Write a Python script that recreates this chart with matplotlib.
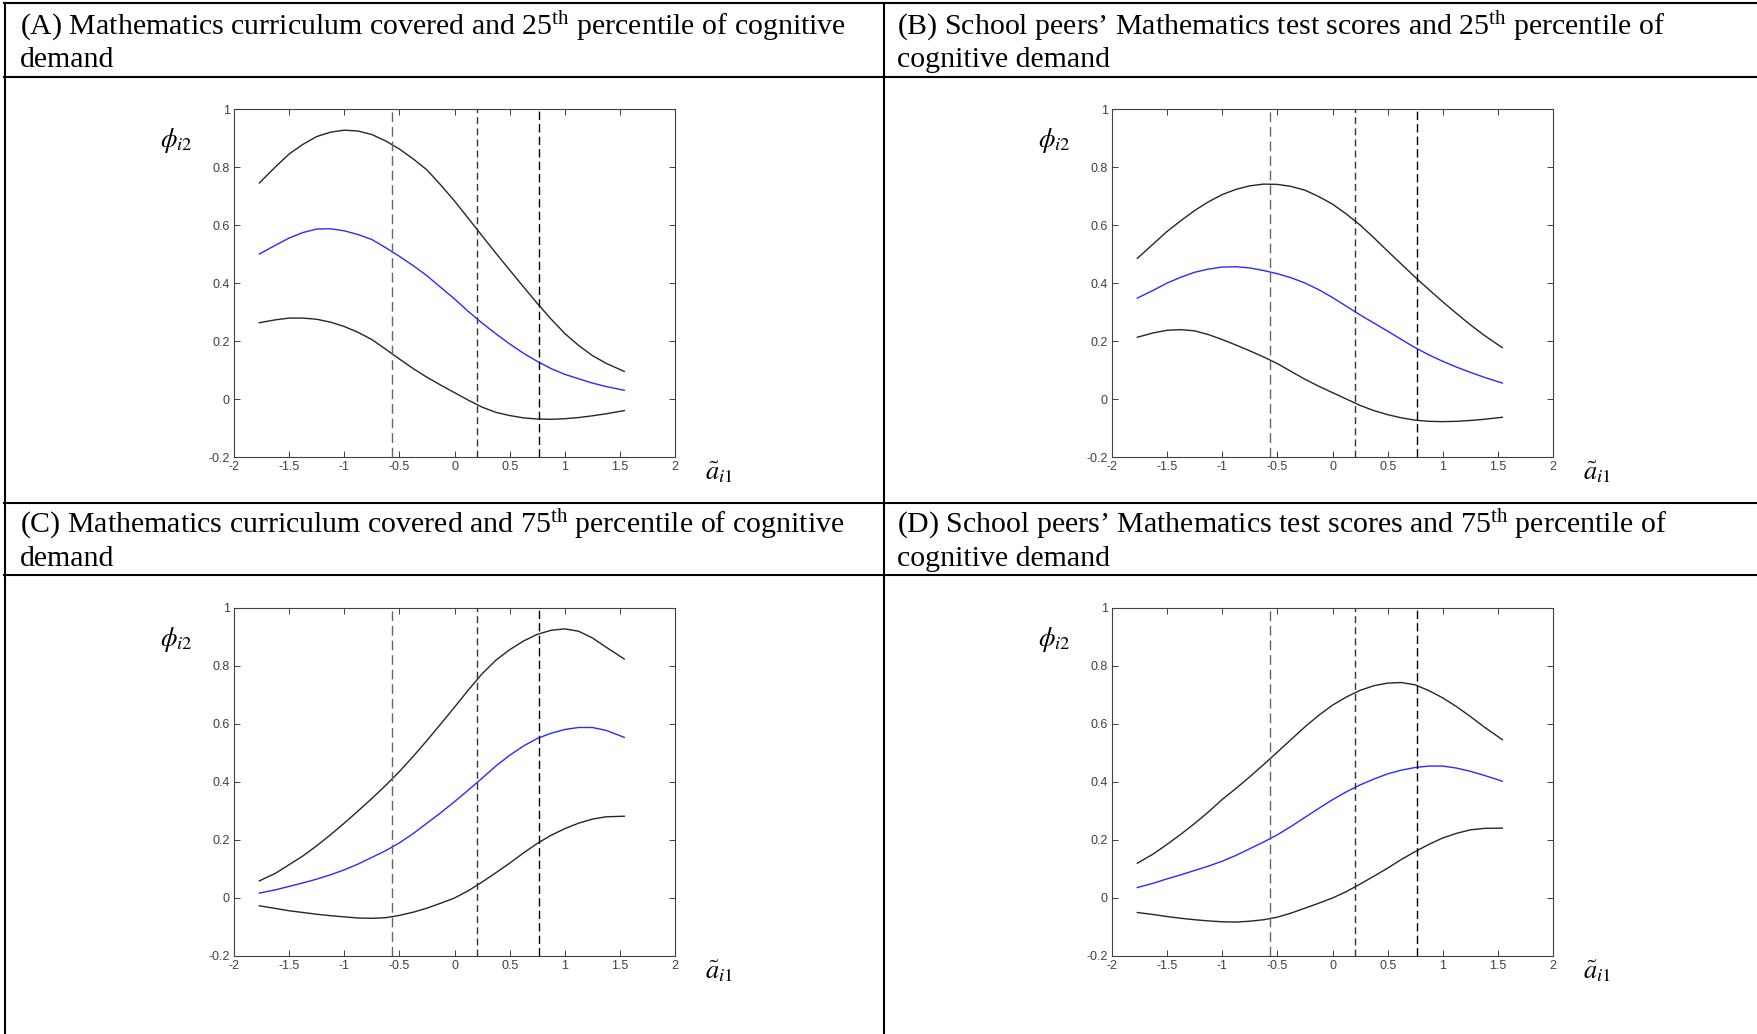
import numpy as np
import matplotlib.pyplot as plt
from matplotlib.lines import Line2D

plt.rcParams['mathtext.fontset'] = 'custom'
plt.rcParams['mathtext.rm'] = 'Liberation Serif'
plt.rcParams['mathtext.it'] = 'Liberation Serif:italic'

# abscissa points
x_pts = [-1.77, -1.625, -1.5, -1.375, -1.25, -1.125, -1.0, -0.875, -0.75, -0.625, -0.5,
         -0.375, -0.25, -0.125, 0.0, 0.125, 0.25, 0.375, 0.5, 0.625, 0.75, 0.875,
         1.0, 1.125, 1.25, 1.375, 1.54]

# (A) curriculum covered, 25th percentile
a_upper = [0.745, 0.80, 0.845, 0.878, 0.905, 0.92, 0.927, 0.924, 0.912, 0.89, 0.862,
           0.828, 0.79, 0.738, 0.683, 0.623, 0.563, 0.503, 0.445, 0.387, 0.33, 0.276,
           0.226, 0.185, 0.15, 0.123, 0.095]
a_mid = [0.50, 0.53, 0.555, 0.574, 0.586, 0.587, 0.58, 0.567, 0.55, 0.522, 0.492,
         0.46, 0.425, 0.385, 0.345, 0.302, 0.262, 0.225, 0.19, 0.158, 0.13, 0.105,
         0.085, 0.07, 0.055, 0.043, 0.03]
a_lower = [0.263, 0.273, 0.279, 0.279, 0.275, 0.265, 0.25, 0.23, 0.205, 0.172, 0.138,
           0.105, 0.075, 0.048, 0.022, -0.004, -0.028, -0.046, -0.057, -0.065, -0.069, -0.07,
           -0.068, -0.064, -0.058, -0.051, -0.04]

# (B) peers' test scores, 25th percentile
b_upper = [0.485, 0.535, 0.578, 0.615, 0.65, 0.68, 0.705, 0.723, 0.735, 0.741, 0.74,
           0.733, 0.72, 0.698, 0.672, 0.638, 0.60, 0.556, 0.51, 0.465, 0.42, 0.377,
           0.335, 0.295, 0.256, 0.22, 0.177]
b_mid = [0.348, 0.375, 0.40, 0.42, 0.437, 0.448, 0.455, 0.456, 0.452, 0.443, 0.432,
         0.418, 0.40, 0.377, 0.35, 0.32, 0.29, 0.262, 0.234, 0.205, 0.177, 0.152,
         0.13, 0.11, 0.092, 0.075, 0.055]
b_lower = [0.213, 0.228, 0.237, 0.239, 0.235, 0.222, 0.205, 0.186, 0.166, 0.145, 0.122,
           0.095, 0.068, 0.044, 0.022, 0.0, -0.022, -0.04, -0.054, -0.065, -0.073, -0.077,
           -0.078, -0.077, -0.074, -0.07, -0.063]

# (C) curriculum covered, 75th percentile
c_upper = [0.059, 0.085, 0.115, 0.145, 0.18, 0.218, 0.258, 0.30, 0.343, 0.388, 0.436,
           0.488, 0.543, 0.60, 0.658, 0.717, 0.773, 0.82, 0.856, 0.886, 0.909, 0.923,
           0.928, 0.92, 0.897, 0.865, 0.824]
c_mid = [0.017, 0.028, 0.04, 0.052, 0.065, 0.08, 0.097, 0.117, 0.14, 0.163, 0.19,
         0.222, 0.258, 0.294, 0.332, 0.372, 0.413, 0.455, 0.492, 0.524, 0.55, 0.568,
         0.581, 0.588, 0.588, 0.578, 0.554]
c_lower = [-0.027, -0.036, -0.044, -0.05, -0.056, -0.061, -0.065, -0.069, -0.07, -0.068, -0.06,
           -0.049, -0.035, -0.018, 0.0, 0.025, 0.055, 0.087, 0.12, 0.155, 0.188, 0.216,
           0.239, 0.258, 0.272, 0.28, 0.282]

# (D) peers' test scores, 75th percentile
d_upper = [0.12, 0.152, 0.185, 0.22, 0.257, 0.297, 0.34, 0.378, 0.418, 0.46, 0.503,
           0.547, 0.59, 0.63, 0.665, 0.693, 0.716, 0.732, 0.741, 0.743, 0.735, 0.715,
           0.69, 0.66, 0.626, 0.59, 0.546]
d_mid = [0.036, 0.051, 0.066, 0.08, 0.095, 0.11, 0.127, 0.147, 0.17, 0.193, 0.218,
         0.247, 0.278, 0.309, 0.339, 0.366, 0.39, 0.41, 0.428, 0.441, 0.45, 0.455,
         0.455, 0.448, 0.437, 0.423, 0.403]
d_lower = [-0.05, -0.057, -0.064, -0.07, -0.075, -0.079, -0.082, -0.083, -0.08, -0.075, -0.066,
           -0.052, -0.035, -0.018, 0.0, 0.022, 0.048, 0.075, 0.103, 0.133, 0.16, 0.185,
           0.207, 0.223, 0.235, 0.24, 0.241]

# vertical reference lines (percentiles)
v_lines = [-0.57, 0.2, 0.77]

x_ticks = [-2, -1.5, -1, -0.5, 0, 0.5, 1, 1.5, 2]
x_ticklabels = ['-2', '-1.5', '-1', '-0.5', '0', '0.5', '1', '1.5', '2']
y_ticks = [-0.2, 0, 0.2, 0.4, 0.6, 0.8, 1]
y_ticklabels = ['-0.2', '0', '0.2', '0.4', '0.6', '0.8', '1']

headers = [
    ('(A) Mathematics curriculum covered and 25$^{\\mathrm{th}}$ percentile of cognitive', 'demand'),
    ('(B) School peers\u2019 Mathematics test scores and 25$^{\\mathrm{th}}$ percentile of', 'cognitive demand'),
    ('(C) Mathematics curriculum covered and 75$^{\\mathrm{th}}$ percentile of cognitive', 'demand'),
    ('(D) School peers\u2019 Mathematics test scores and 75$^{\\mathrm{th}}$ percentile of', 'cognitive demand'),
]
panels = [(a_upper, a_mid, a_lower), (b_upper, b_mid, b_lower),
          (c_upper, c_mid, c_lower), (d_upper, d_mid, d_lower)]

W, H = 1758, 1034
fig = plt.figure(figsize=(W / 100, H / 100), dpi=100)

def fx(px):
    return px / W

def fy(py):
    return 1 - py / H

# table grid
line_kw = dict(color='black', lw=1.5, transform=fig.transFigure)
for yy in [3, 77, 503, 575]:
    fig.add_artist(Line2D([fx(4), 1], [fy(yy), fy(yy)], **line_kw))
for xx in [5, 884.5]:
    fig.add_artist(Line2D([fx(xx), fx(xx)], [fy(3), 0], **line_kw))

axes_left = [234, 1112]
axes_top = [109, 608]
ax_w, ax_h = 441, 348
text_x = [20, 897]
text_base = [(35, 67), (533, 566)]

dash_styles = [((0, (7, 3.5)), '#666666'), ((0, (5, 3)), '#333333'), ((0, (6, 3)), '#000000')]

for i, (upper, mid, lower) in enumerate(panels):
    row, col = divmod(i, 2)
    l1, l2 = headers[i]
    fig.text(fx(text_x[col]), fy(text_base[row][0]), l1, fontsize=21.5,
             family='Liberation Serif', math_fontfamily='custom', va='baseline')
    fig.text(fx(text_x[col]), fy(text_base[row][1]), l2, fontsize=21.5,
             family='Liberation Serif', va='baseline')

    left = axes_left[col]
    top = axes_top[row]
    ax = fig.add_axes([fx(left), fy(top + ax_h), ax_w / W, ax_h / H])
    ax.plot(x_pts, upper, color='#262626', lw=1.0)
    ax.plot(x_pts, mid, color='#2a2aff', lw=1.0)
    ax.plot(x_pts, lower, color='#262626', lw=1.0)
    for xv, (ls, c) in zip(v_lines, dash_styles):
        ax.axvline(xv, color=c, ls=ls, lw=1.0)
    ax.set_xlim(-2, 2)
    ax.set_ylim(-0.2, 1)
    ax.set_xticks(x_ticks)
    ax.set_xticklabels(x_ticklabels, family='Liberation Sans')
    ax.set_yticks(y_ticks)
    ax.set_yticklabels(y_ticklabels, family='Liberation Sans')
    ax.tick_params(direction='in', length=4, width=0.7, top=True, right=True,
                   labelsize=9, labelcolor='#404040', color='#404040', pad=3)
    for sp in ax.spines.values():
        sp.set_color('#404040')
        sp.set_linewidth(0.8)
    ax.text(-0.13, 0.91, r'$\phi_{i2}$', transform=ax.transAxes, fontsize=19,
            math_fontfamily='stix', ha='center', va='center')
    ax.text(1.10, -0.045, r'$\tilde{a}_{i1}$', transform=ax.transAxes, fontsize=19,
            math_fontfamily='stix', ha='center', va='center')

fig.savefig('out.png', dpi=100)
